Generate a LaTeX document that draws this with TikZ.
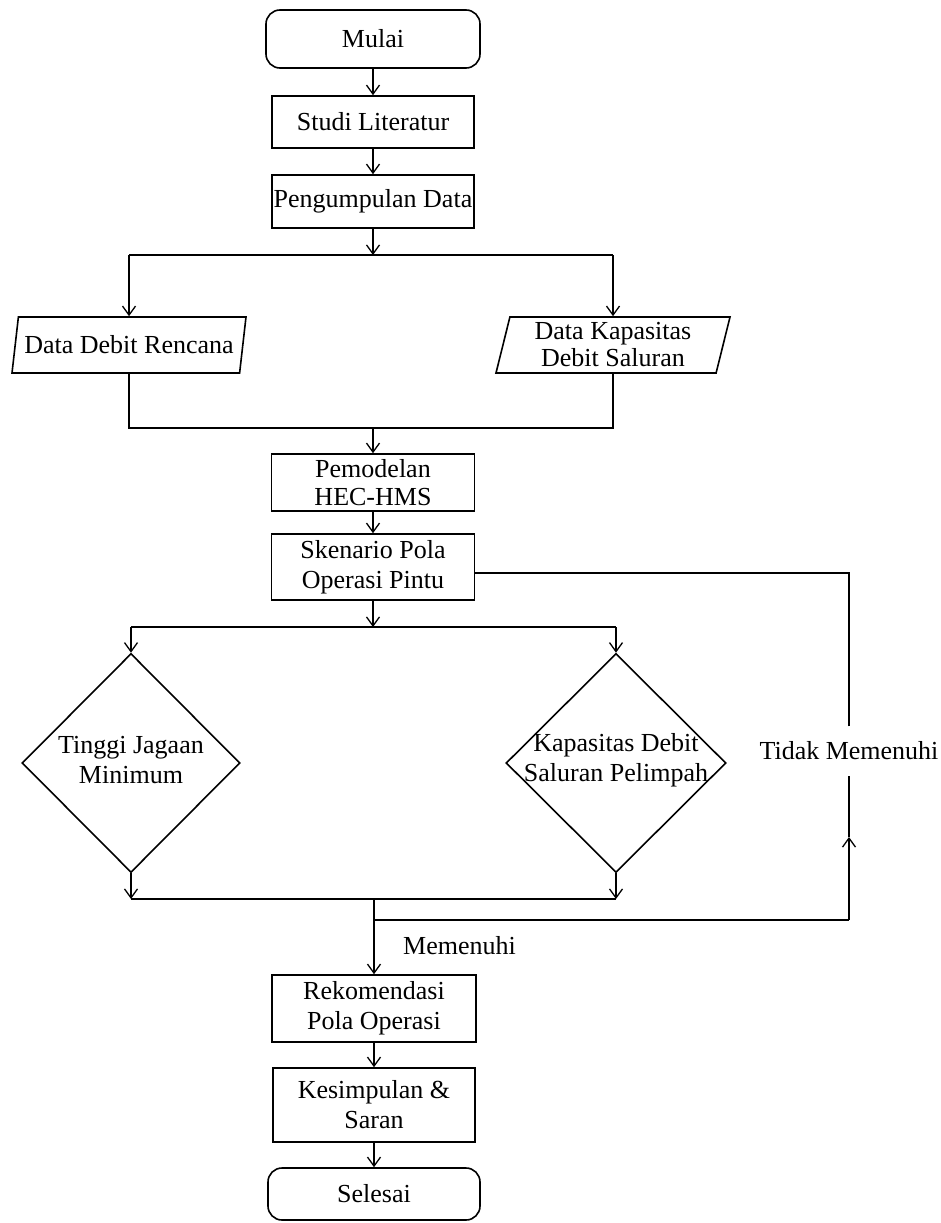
\documentclass[tikz,border=0pt]{standalone}
\usepackage{fontspec}
\setmainfont{Liberation Serif}
\usetikzlibrary{shapes.geometric,arrows.meta}
\begin{document}
\begin{tikzpicture}[x=1pt,y=-1pt,
  every node/.style={font=\fontsize{26}{30}\selectfont, align=center, inner sep=2pt},
  line/.style={line width=1.6pt, draw=black},
  arr/.style={line, -{Straight Barb[length=9pt,width=13pt,line width=1.3pt]}},
  procbox/.style={line, draw, rectangle},
  termbox/.style={line, draw, rectangle, rounded corners=14pt},
  iobox/.style={line, draw, trapezium, trapezium left angle=74, trapezium right angle=106, trapezium stretches body},
  decbox/.style={line, draw, diamond, inner sep=0pt}
]
\useasboundingbox (0,0) rectangle (941,1223);

\node[termbox, minimum width=214pt, minimum height=58pt] (mulai) at (373,39) {Mulai};
\node[procbox, minimum width=202pt, minimum height=52pt] (studi) at (373,122) {Studi Literatur};
\node[procbox, minimum width=202pt, minimum height=53pt] (kumpul) at (373,201.5) {Pengumpulan Data};

\coordinate (split1) at (373,255);
\node[iobox, minimum width=234pt, minimum height=56pt] (ddr) at (129,345) {Data Debit Rencana};
\node[iobox, minimum width=234pt, minimum height=56pt] (dkds) at (613,345) {Data Kapasitas\\[-3pt]Debit Saluran};
\coordinate (join1) at (373,428);

\node[procbox, minimum width=203pt, minimum height=57pt] (model) at (373,482.5) {Pemodelan\\[-2pt]HEC-HMS};
\node[procbox, minimum width=203pt, minimum height=66pt] (sken) at (373,567) {Skenario Pola\\Operasi Pintu};

\coordinate (split2) at (373,627);
\node[decbox, minimum width=218pt, minimum height=219pt] (tjm) at (131,763) {};
\node at (131,760) {Tinggi Jagaan\\Minimum};
\node[decbox, minimum width=220pt, minimum height=219pt] (kdsp) at (616,763) {};
\node at (616,760) {Kapasitas Debit\\Saluran Pelimpah};

\coordinate (join2) at (374,899);
\coordinate (fb) at (374,920);
\coordinate (fbr) at (849,920);
\coordinate (mid) at (849,837);
\coordinate (fbt) at (849,573);
\node[minimum height=49pt, inner sep=0pt] (tidak) at (849,751) {Tidak Memenuhi};
\node[anchor=west] (memenuhi) at (401,946) {Memenuhi};

\node[procbox, minimum width=204pt, minimum height=67pt] (rekom) at (374,1008.5) {Rekomendasi\\Pola Operasi};
\node[procbox, minimum width=202pt, minimum height=74pt] (kesim) at (374,1105) {Kesimpulan \&\\Saran};
\node[termbox, minimum width=212pt, minimum height=52pt] (selesai) at (374,1194) {Selesai};

% connectors
\draw[arr] (mulai) -- (studi);
\draw[arr] (studi) -- (kumpul);
\draw[arr] (kumpul) -- (split1);
\draw[line] (split1 -| ddr.north) -- (split1 -| dkds.north);
\draw[arr] (split1 -| ddr.north) -- (ddr.north);
\draw[arr] (split1 -| dkds.north) -- (dkds.north);
\draw[line] (ddr.south) |- (join1);
\draw[line] (dkds.south) |- (join1);
\draw[arr] (join1) -- (model);
\draw[arr] (model) -- (sken);
\draw[arr] (sken) -- (split2);
\draw[line] (split2 -| tjm.north) -- (split2 -| kdsp.north);
\draw[arr] (split2 -| tjm.north) -- (tjm.north);
\draw[arr] (split2 -| kdsp.north) -- (kdsp.north);
\draw[arr] (tjm.south) -- (tjm.south |- join2);
\draw[arr] (kdsp.south) -- (kdsp.south |- join2);
\draw[line] (tjm.south |- join2) -- (kdsp.south |- join2);
\draw[arr] (join2) -- (rekom);
\draw[line] (fb) -- (fbr);
\draw[arr] (fbr) -- (mid);
\draw[line] (mid) -- (tidak.south);
\draw[line] (tidak.north) -- (fbt) -- (fbt -| sken.east);
\draw[arr] (rekom) -- (kesim);
\draw[arr] (kesim) -- (selesai);
\end{tikzpicture}
\end{document}
